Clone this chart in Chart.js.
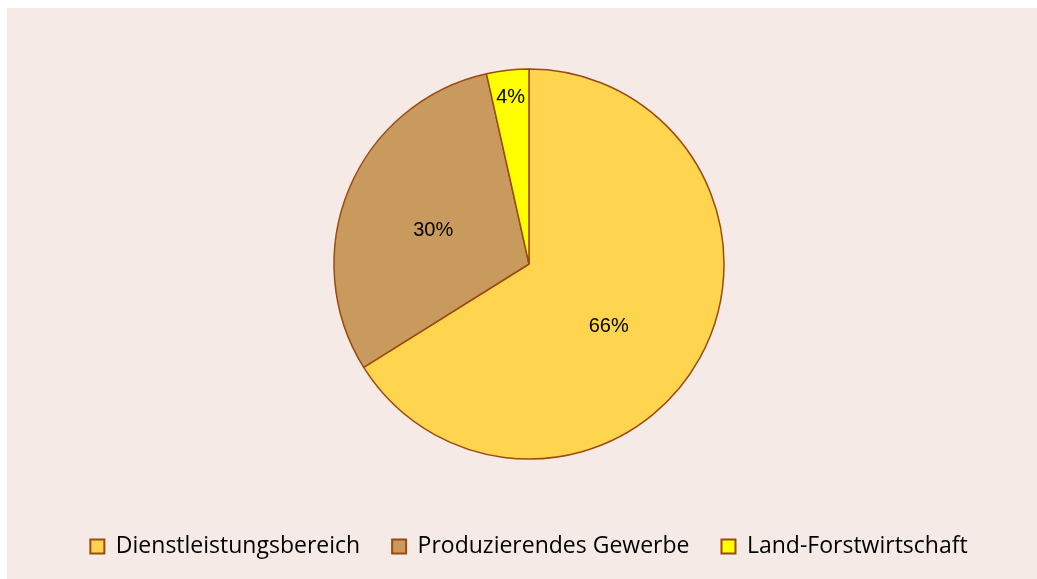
<!DOCTYPE html>
<html>
<head>
<meta charset="utf-8">
<script src="https://cdn.jsdelivr.net/npm/chart.js@4"></script>
<style>
  body { margin: 0; background: #ffffff; }
  #wrap { position: absolute; left: 7px; top: 8px; width: 1030px; height: 571px; background: #F5EAE6; }
</style>
</head>
<body>
<div id="wrap"><canvas id="pie"></canvas></div>
<script>
const categories = ['Dienstleistungsbereich', 'Produzierendes Gewerbe', 'Land-Forstwirtschaft'];
const shares = [66.1, 30.4, 3.5];
const shareLabels = ['66%', '30%', '4%'];
const sliceColors = ['#FFD44F', '#C99A5E', '#FFFF00'];
const edgeColor = '#9E4A0E';

// draws the percentage inside each slice
const sliceLabels = {
    id: 'sliceLabels',
    afterDatasetsDraw(chart) {
        const ctx = chart.ctx;
        const meta = chart.getDatasetMeta(0);
        ctx.save();
        ctx.font = '20px "Liberation Sans", Arial, sans-serif';
        ctx.fillStyle = '#000000';
        ctx.textAlign = 'center';
        ctx.textBaseline = 'middle';
        meta.data.forEach((arc, i) => {
            const p = arc.getProps(['x', 'y', 'startAngle', 'endAngle', 'outerRadius'], true);
            // nudge off the bisector a little, like Excel's best fit
            let shift = 0;
            if (shares[i] > 50) shift = 0.16;
            else if (shares[i] > 10) shift = -0.06;
            const mid = (p.startAngle + p.endAngle) / 2 + shift;
            const f = shares[i] < 10 ? 0.86 : 0.52;
            const x = p.x + Math.cos(mid) * p.outerRadius * f;
            const y = p.y + Math.sin(mid) * p.outerRadius * f;
            ctx.fillText(shareLabels[i], x, y);
        });
        ctx.restore();
    }
};

new Chart(document.getElementById('pie').getContext('2d'), {
    type: 'pie',
    data: {
        labels: categories,
        datasets: [{
            data: shares,
            backgroundColor: sliceColors,
            borderColor: edgeColor,
            borderWidth: 1.5,
            radius: 195
        }]
    },
    options: {
        responsive: true,
        maintainAspectRatio: false,
        animation: false,
        layout: { padding: { top: 17, bottom: 11, left: 14, right: 0 } },
        plugins: {
            legend: {
                position: 'bottom',
                labels: {
                    color: '#000000',
                    font: { family: '"Open Sans", Lato, sans-serif', size: 23 },
                    boxWidth: 14,
                    boxHeight: 14,
                    padding: 32,
                    generateLabels: (chart) => categories.map((c, i) => ({
                        text: c,
                        fillStyle: sliceColors[i],
                        strokeStyle: edgeColor,
                        lineWidth: 2,
                        index: i
                    }))
                }
            },
            tooltip: { enabled: false }
        }
    },
    plugins: [sliceLabels]
});
</script>
</body>
</html>
